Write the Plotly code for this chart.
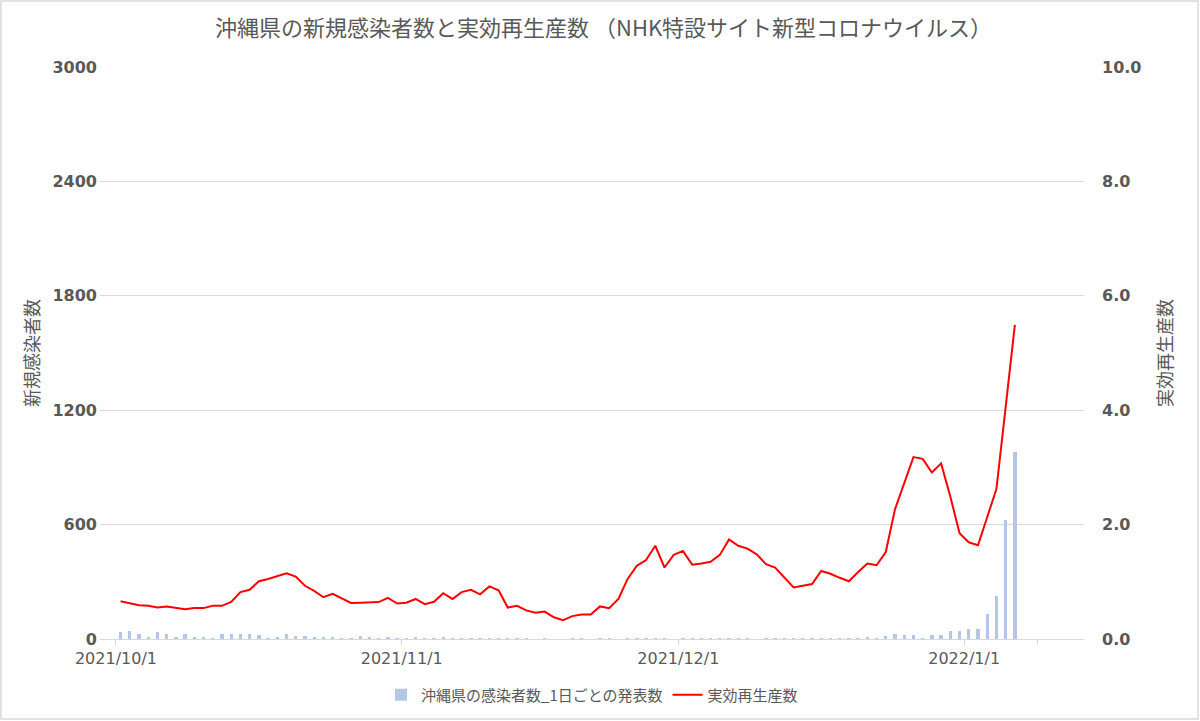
import pandas as pd
import plotly.graph_objects as go

# Okinawa daily new cases and effective reproduction number (NHK)
start_date = "2021-10-01"

new_cases = [
    38, 44, 24, 7, 38, 28, 12, 24, 12, 12, 4, 24, 28, 28, 28, 19, 4, 10, 24, 16,
    16, 10, 7, 10, 4, 5, 16, 7, 4, 9, 5, 5, 7, 4, 4, 12, 4, 4, 4, 4,
    4, 4, 3, 3, 3, 0, 2, 0, 0, 3, 2, 0, 3, 3, 0, 3, 3, 3, 3, 4,
    0, 3, 3, 3, 3, 3, 3, 3, 3, 0, 3, 3, 3, 3, 3, 3, 3, 3, 3, 3,
    3, 7, 2, 18, 28, 22, 19, 3, 22, 22, 44, 41, 51, 52, 130, 225, 623, 981,
]

rt_values = [
    0.66, 0.62, 0.59, 0.58, 0.55, 0.57, 0.54, 0.52, 0.54, 0.54,
    0.58, 0.58, 0.65, 0.82, 0.86, 1.01, 1.05, 1.10, 1.15, 1.09,
    0.93, 0.84, 0.73, 0.79, 0.71, 0.63, 0.635, 0.635, 0.645, 0.72,
    0.62, 0.635, 0.70, 0.61, 0.65, 0.80, 0.70, 0.82, 0.86, 0.78,
    0.92, 0.85, 0.55, 0.58, 0.50, 0.46, 0.48, 0.38, 0.33, 0.40,
    0.43, 0.43, 0.57, 0.54, 0.70, 1.05, 1.28, 1.38, 1.63, 1.25,
    1.47, 1.54, 1.30, 1.32, 1.35, 1.47, 1.74, 1.63, 1.58, 1.48,
    1.31, 1.25, 1.08, 0.90, 0.93, 0.96, 1.19, 1.14, 1.07, 1.01,
    1.17, 1.32, 1.29, 1.52, 2.27, 2.71, 3.18, 3.15, 2.91, 3.07,
    2.49, 1.85, 1.69, 1.64, 2.14, 2.62, 4.05, 5.49,
]

tick_dates = ["2021-10-01", "2021-11-01", "2021-12-01", "2022-01-01", "2022-01-09"]
tick_labels = ["2021/10/1", "2021/11/1", "2021/12/1", "2022/1/1", ""]

dates = pd.date_range(start_date, periods=len(new_cases), freq="D")
day = pd.Timedelta(days=1)

GREY = "#595959"
GRID = "#D9D9D9"
JP = "Noto Sans CJK JP"
LAT = "DejaVu Sans, Noto Sans CJK JP"

fig = go.Figure()

fig.add_trace(go.Bar(
    x=dates,
    y=new_cases,
    name="沖縄県の感染者数_1日ごとの発表数",
    marker=dict(color="#B4C7E7", line=dict(width=0)),
    width=0.36 * day.total_seconds() * 1000,
    yaxis="y",
))

fig.add_trace(go.Scatter(
    x=dates,
    y=rt_values,
    name="実効再生産数",
    mode="lines",
    line=dict(color="#FF0000", width=2),
    yaxis="y2",
))

fig.update_layout(
    width=1200,
    height=721,
    paper_bgcolor="white",
    plot_bgcolor="white",
    margin=dict(l=100, r=116, t=67, b=82, autoexpand=False),
    title=dict(
        text="沖縄県の新規感染者数と実効再生産数 （NHK特設サイト新型コロナウイルス）",
        font=dict(family=JP, size=22, color=GREY),
        x=0.503, xanchor="center",
        y=1 - 28 / 721, yanchor="middle", yref="container",
    ),
    xaxis=dict(
        type="date",
        range=[dates[0] - 2.23 * day, dates[0] + 104.5 * day],
        tickvals=[pd.Timestamp(d) - 0.5 * day for d in tick_dates],
        ticktext=tick_labels,
        ticks="outside", ticklen=5, tickcolor=GRID,
        tickfont=dict(family=LAT, size=16, color=GREY),
        showgrid=False,
        showline=True, linecolor=GRID, linewidth=1,
        zeroline=False,
        automargin=False,
    ),
    yaxis=dict(
        range=[0, 3000],
        dtick=600,
        tickfont=dict(family=LAT, size=16, color=GREY, weight="bold"),
        gridcolor=GRID, gridwidth=1,
        zeroline=False,
        ticklabelstandoff=2,
        automargin=False,
        title=dict(text="新規感染者数", font=dict(family=JP, size=18, color=GREY), standoff=8),
    ),
    yaxis2=dict(
        range=[0, 10],
        dtick=2,
        tickformat=".1f",
        overlaying="y",
        side="right",
        showgrid=False,
        zeroline=False,
        tickfont=dict(family=LAT, size=16, color=GREY, weight="bold"),
        ticklabelstandoff=17,
        automargin=False,
        title=dict(text="実効再生産数", font=dict(family=JP, size=18, color=GREY), standoff=18),
    ),
    bargap=0,
    legend=dict(
        orientation="h",
        x=0.5, xanchor="center",
        y=-0.098, yanchor="middle",
        font=dict(family=JP, size=15, color=GREY),
    ),
)

# light chart-area border like the spreadsheet chart
fig.add_shape(
    type="rect", xref="paper", yref="paper",
    x0=-99 / 984, x1=1 + 114 / 984, y0=-80 / 572, y1=1 + 66 / 572,
    line=dict(color=GRID, width=1.5), fillcolor="rgba(0,0,0,0)", layer="below",
)

fig.write_html(
    "out.html",
    config={"displayModeBar": False},
    post_script="document.body.style.margin='0';",
)
